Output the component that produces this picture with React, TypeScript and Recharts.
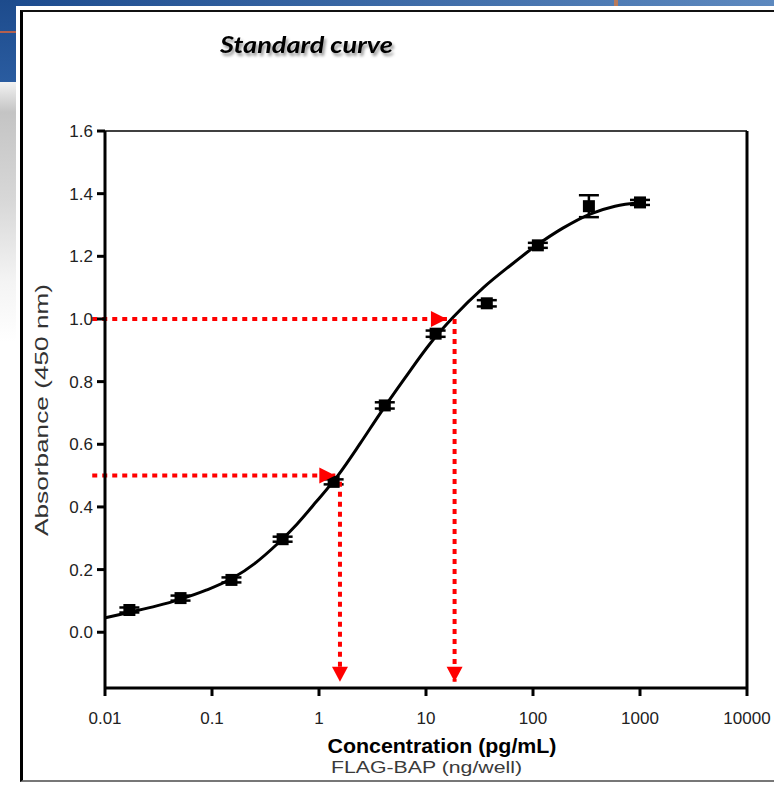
import React from 'react';
import {
  ComposedChart,
  Line,
  Scatter,
  ErrorBar,
  XAxis,
  YAxis,
  ReferenceLine,
  ReferenceDot,
} from 'recharts';

// measured standards (3-fold dilution series)
const standardConc = [0.0169, 0.0508, 0.152, 0.457, 1.37, 4.12, 12.3, 37, 111, 333, 1000];
const standardAbs = [0.071, 0.109, 0.167, 0.297, 0.48, 0.724, 0.953, 1.05, 1.235, 1.36, 1.372];
const standardErr = [0.008, 0.008, 0.008, 0.008, 0.008, 0.01, 0.01, 0.01, 0.008, 0.035, 0.008];

// fitted curve
const curveConc = [0.01, 0.0171, 0.0304, 0.0502, 0.0893, 0.158, 0.252, 0.402, 0.622, 0.95, 1.5, 2.42, 3.72, 6.37, 10.9, 18, 34.4, 61, 108, 190, 341, 584, 1000];
const curveAbs = [0.046, 0.064, 0.084, 0.105, 0.135, 0.174, 0.22, 0.28, 0.345, 0.418, 0.5, 0.602, 0.698, 0.812, 0.921, 1.006, 1.1, 1.17, 1.235, 1.29, 1.335, 1.36, 1.372];

// red read-off guides
const guideAbs = [0.5, 1.0];
const guideArrowConc = [1.42, 15.7];
const guideDropConc = [1.57, 18.5];
const guideStartConc = 0.0076;
const guideDropTop = [0.48, 1.0];
const guideDropBottom = -0.158;

const concTicks = [0.01, 0.1, 1, 10, 100, 1000, 10000];
const absTicks = [0, 0.2, 0.4, 0.6, 0.8, 1.0, 1.2, 1.4, 1.6];

const standards = standardConc.map((x, i) => ({ x, y: standardAbs[i], err: standardErr[i] }));
const curve = curveConc.map((x, i) => ({ x, y: curveAbs[i] }));

const RED = '#ff0000';
const tickFont = { fill: '#222', fontSize: 17, fontFamily: '"Liberation Sans", Arial, sans-serif' };

const squareMarker = (p: any) => (
  <rect x={p.cx - 6} y={p.cy - 6} width={12} height={12} fill="#000" />
);

const arrowRight = (p: any) => (
  <polygon points={`${p.cx},${p.cy} ${p.cx - 16},${p.cy - 8} ${p.cx - 16},${p.cy + 8}`} fill={RED} />
);

const arrowDown = (p: any) => (
  <polygon points={`${p.cx},${p.cy} ${p.cx - 8},${p.cy - 15} ${p.cx + 8},${p.cy - 15}`} fill={RED} />
);

export default function App() {
  return (
    <div style={{ position: 'absolute', left: 0, top: 0, width: 774, height: 785, overflow: 'hidden', background: '#fff' }}>
      {/* slide background bits */}
      <div style={{ position: 'absolute', left: 0, top: 0, width: 774, height: 6, background: 'linear-gradient(90deg, #1c4b8e, #5d89bf)' }} />
      <div style={{ position: 'absolute', left: 614, top: 0, width: 4, height: 6, background: '#b87a5a' }} />
      <div style={{ position: 'absolute', left: 0, top: 0, width: 16, height: 82, background: 'linear-gradient(180deg, #1d4b8c, #2a5ca0)' }} />
      <div style={{ position: 'absolute', left: 0, top: 31, width: 16, height: 2, background: '#b4604e' }} />
      <div style={{ position: 'absolute', left: 0, top: 82, width: 16, height: 703, background: 'linear-gradient(180deg, #f2f2f2 0px, #c4c4c4 30px, #d8d8d8 120px, #f4f4f4 200px, #fff 260px)' }} />
      {/* white panel with border */}
      <div style={{ position: 'absolute', left: 16, top: 6, width: 780, height: 779, background: '#fff' }} />
      <div style={{ position: 'absolute', left: 20, top: 10, width: 780, height: 772, borderLeft: '3px solid #000', borderTop: '2.5px solid #111', borderBottom: '2px solid #777', boxSizing: 'border-box' }} />

      <div style={{ position: 'absolute', left: 0, top: 0 }}>
        <ComposedChart width={774} height={785} margin={{ top: 131, right: 27, bottom: 67, left: 45 }}>
          <XAxis
            dataKey="x"
            type="number"
            scale="log"
            domain={[0.01, 10000]}
            ticks={concTicks}
            tickFormatter={(v: number) => String(v)}
            allowDataOverflow
            axisLine={{ stroke: '#000', strokeWidth: 3 }}
            tickLine={{ stroke: '#000', strokeWidth: 3 }}
            tickSize={8}
            tickMargin={16}
            tick={tickFont}
            interval={0}
          />
          <YAxis
            type="number"
            domain={[-0.178, 1.6]}
            ticks={absTicks}
            tickFormatter={(v: number) => v.toFixed(1)}
            allowDataOverflow
            axisLine={{ stroke: '#000', strokeWidth: 3 }}
            tickLine={{ stroke: '#000', strokeWidth: 3 }}
            tickSize={8}
            tickMargin={4}
            tick={tickFont}
            interval={0}
          />
          <ReferenceLine y={1.6} stroke="#000" strokeWidth={1.5} />
          <ReferenceLine x={10000} stroke="#000" strokeWidth={3} />

          <Line
            data={curve}
            dataKey="y"
            type="monotone"
            stroke="#000"
            strokeWidth={3}
            dot={false}
            isAnimationActive={false}
          />
          <Scatter data={standards} dataKey="y" shape={squareMarker} isAnimationActive={false}>
            <ErrorBar dataKey="err" direction="y" width={10} stroke="#000" strokeWidth={2.5} isAnimationActive={false} />
          </Scatter>

          {guideAbs.map((a, i) => (
            <ReferenceLine
              key={`h${i}`}
              segment={[{ x: guideStartConc, y: a }, { x: guideArrowConc[i], y: a }]}
              stroke={RED}
              strokeWidth={4}
              strokeDasharray="5 5"
              ifOverflow="visible"
            />
          ))}
          {guideAbs.map((a, i) => (
            <ReferenceLine
              key={`v${i}`}
              segment={[{ x: guideDropConc[i], y: guideDropTop[i] }, { x: guideDropConc[i], y: guideDropBottom }]}
              stroke={RED}
              strokeWidth={4}
              strokeDasharray="5 5"
              ifOverflow="visible"
            />
          ))}
          {guideAbs.map((a, i) => (
            <ReferenceDot key={`ar${i}`} x={guideArrowConc[i]} y={a} shape={arrowRight} ifOverflow="visible" />
          ))}
          {guideAbs.map((a, i) => (
            <ReferenceDot key={`ad${i}`} x={guideDropConc[i]} y={guideDropBottom} shape={arrowDown} ifOverflow="visible" />
          ))}
        </ComposedChart>
      </div>

      {/* titles */}
      <svg width={774} height={785} style={{ position: 'absolute', left: 0, top: 0, pointerEvents: 'none' }}>
        <defs>
          <filter id="shadow" x="-10%" y="-50%" width="120%" height="200%">
            <feDropShadow dx="2" dy="3" stdDeviation="1.5" floodColor="#000" floodOpacity="0.4" />
          </filter>
        </defs>
        <text x={220} y={53} fontFamily="Lato, 'Open Sans', sans-serif" fontWeight="bold" fontStyle="italic" fontSize={22}
          textLength={173} lengthAdjust="spacingAndGlyphs" fill="#000" filter="url(#shadow)">
          Standard curve
        </text>
        <text transform="translate(48,410) rotate(-90)" textAnchor="middle" fontFamily="'Liberation Sans', Arial, sans-serif"
          fontSize={19} fill="#333" textLength={252} lengthAdjust="spacingAndGlyphs">
          Absorbance (450 nm)
        </text>
        <text x={442} y={753} textAnchor="middle" fontFamily="'Liberation Sans', Arial, sans-serif" fontWeight="bold"
          fontSize={20} fill="#000" textLength={229} lengthAdjust="spacingAndGlyphs">
          Concentration (pg/mL)
        </text>
        <text x={331} y={773} fontFamily="'Liberation Sans', Arial, sans-serif" fontSize={17} fill="#3a3a3a"
          textLength={191} lengthAdjust="spacingAndGlyphs">
          FLAG-BAP (ng/well)
        </text>
      </svg>
    </div>
  );
}
